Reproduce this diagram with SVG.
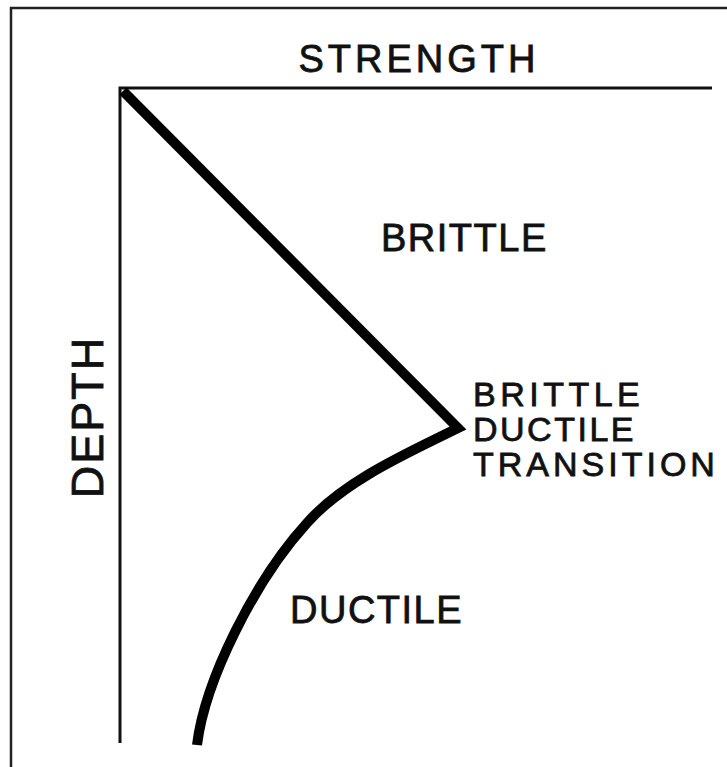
<svg xmlns="http://www.w3.org/2000/svg" width="727" height="767" viewBox="0 0 727 767">
<style>
.lbl{font-family:"Liberation Sans","Arial",sans-serif;fill:#111;stroke:#111;stroke-width:0.8px}
.axis{stroke:#111;stroke-width:3;fill:none}
.curve{stroke:#000;stroke-width:10;fill:none;stroke-linejoin:miter}
</style>
<rect x="0" y="0" width="727" height="767" fill="#fff"/>
<g id="frame">
<path d="M11,767 V8 H727" fill="none" stroke="#222" stroke-width="2.5"/>
</g>
<g id="axes">
<path class="axis" d="M120,743 V88 H712"/>
</g>
<g id="connectors">
<path class="curve" d="M123,91 L458,428 C410,452 345,480 307,523 C255,580 205,680 197,745"/>
</g>
<g id="strength"><text class="lbl" x="419" y="72" font-size="38" letter-spacing="4" text-anchor="middle">STRENGTH</text></g>
<g id="depth"><text class="lbl" font-size="45" letter-spacing="2" text-anchor="middle" transform="translate(103,417) rotate(-90)">DEPTH</text></g>
<g id="brittle"><text class="lbl" x="381" y="251" font-size="38" letter-spacing="1.5">BRITTLE</text></g>
<g id="transition">
<text class="lbl" x="473" y="406" font-size="34" letter-spacing="4.5">BRITTLE</text>
<text class="lbl" x="473" y="441" font-size="34" letter-spacing="2.5">DUCTILE</text>
<text class="lbl" x="473" y="476" font-size="34" letter-spacing="4">TRANSITION</text>
</g>
<g id="ductile"><text class="lbl" x="290" y="623" font-size="38" letter-spacing="1.5">DUCTILE</text></g>
</svg>
